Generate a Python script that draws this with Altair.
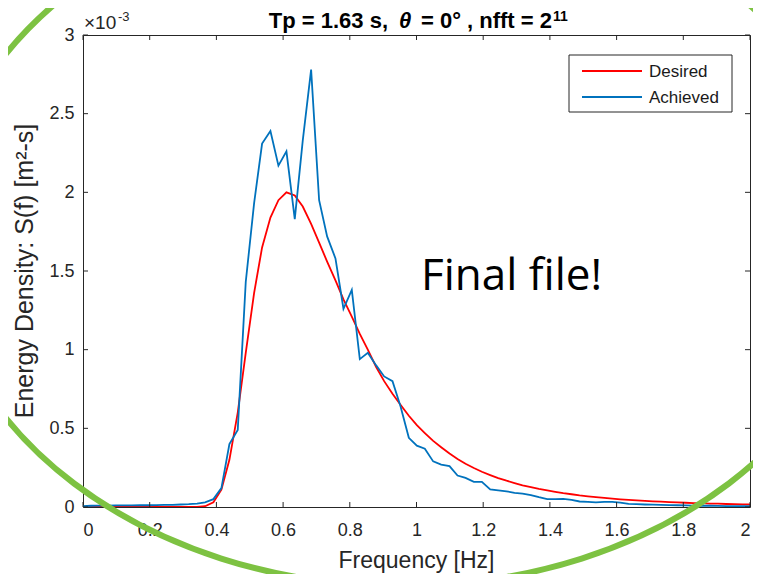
import altair as alt
import pandas as pd

# ---------------- data (values in units of 1e-3 m^2-s) ----------------
freq = [0.000, 0.024, 0.049, 0.073, 0.098, 0.122, 0.146, 0.171, 0.195, 0.220,
        0.244, 0.269, 0.293, 0.317, 0.342, 0.366, 0.391, 0.415, 0.439, 0.464,
        0.488, 0.513, 0.537, 0.562, 0.586, 0.610, 0.635, 0.659, 0.684, 0.708,
        0.732, 0.757, 0.781, 0.806, 0.830, 0.854, 0.879, 0.903, 0.928, 0.952,
        0.977, 1.001, 1.025, 1.050, 1.074, 1.099, 1.123, 1.147, 1.172, 1.196,
        1.221, 1.245, 1.270, 1.294, 1.318, 1.343, 1.367, 1.392, 1.416, 1.440,
        1.465, 1.489, 1.514, 1.538, 1.563, 1.587, 1.611, 1.636, 1.660, 1.685,
        1.709, 1.733, 1.758, 1.782, 1.807, 1.831, 1.855, 1.880, 1.904, 1.929,
        1.953, 1.978, 2.002]

desired = [0.0, 0.0, 0.0, 0.0, 0.0, 0.0, 0.0, 0.0, 0.0, 0.0,
           0.0, 0.0, 0.0, 0.0, 0.001, 0.005, 0.03, 0.11, 0.30, 0.60,
           0.98, 1.36, 1.65, 1.84, 1.95, 2.00, 1.98, 1.91, 1.80, 1.68,
           1.56, 1.44, 1.32, 1.21, 1.10, 1.00, 0.89, 0.80, 0.72, 0.65,
           0.58, 0.52, 0.47, 0.42, 0.38, 0.34, 0.305, 0.275, 0.248, 0.224,
           0.203, 0.184, 0.167, 0.152, 0.138, 0.126, 0.115, 0.105, 0.096, 0.088,
           0.081, 0.074, 0.068, 0.063, 0.058, 0.053, 0.049, 0.045, 0.042, 0.039,
           0.036, 0.034, 0.031, 0.029, 0.027, 0.025, 0.024, 0.022, 0.021, 0.019,
           0.018, 0.017, 0.016]

achieved = [0.005, 0.008, 0.009, 0.009, 0.010, 0.010, 0.010, 0.011, 0.011, 0.012,
            0.013, 0.014, 0.016, 0.018, 0.022, 0.030, 0.050, 0.12, 0.40, 0.49,
            1.43, 1.93, 2.31, 2.39, 2.17, 2.26, 1.83, 2.33, 2.78, 1.95,
            1.72, 1.58, 1.26, 1.38, 0.94, 0.98, 0.90, 0.83, 0.80, 0.64,
            0.44, 0.39, 0.37, 0.29, 0.27, 0.26, 0.20, 0.185, 0.16, 0.16,
            0.112, 0.106, 0.10, 0.09, 0.085, 0.075, 0.062, 0.05, 0.05, 0.052,
            0.045, 0.035, 0.032, 0.030, 0.032, 0.033, 0.028, 0.020, 0.018, 0.016,
            0.015, 0.013, 0.012, 0.011, 0.010, 0.009, 0.008, 0.008, 0.007, 0.006,
            0.006, 0.005, 0.005]

series_names = ["Desired", "Achieved"]
series_colors = ["#FF0000", "#0072BD"]
x_ticks = [0, 0.2, 0.4, 0.6, 0.8, 1, 1.2, 1.4, 1.6, 1.8, 2]
y_ticks = [0, 0.5, 1, 1.5, 2, 2.5, 3]

title_parts = ["Tp = 1.63 s,", "\u03b8", "= 0\u00b0 , nfft = 2", "11"]
x_label = "Frequency [Hz]"
y_label = "Energy Density: S(f) [m\u00b2-s]"
exponent = ["\u00d710", "-3"]
note = "Final file!"

# ---------------- layout ----------------
W, H = 667, 472
FONT = "Liberation Sans"
AX = "#262626"

df = pd.DataFrame({"f": freq, "Desired": desired, "Achieved": achieved})
one = pd.DataFrame({"_": [0]})
xt = pd.DataFrame({"t": x_ticks})
yt = pd.DataFrame({"t": y_ticks})

xs = alt.Scale(domain=[0, 2], nice=False, zero=False)
ys = alt.Scale(domain=[0, 3], nice=False, zero=False)

common = dict(ticks=False, tickSize=0, domain=False, grid=False,
              labelFont=FONT, labelFontSize=18, labelColor=AX, title=None)
ax_x = alt.Axis(values=x_ticks, format="~g", labelPadding=14, **common)
ax_y = alt.Axis(values=y_ticks, format="~g", labelPadding=9, **common)

red = alt.Chart(df).mark_line(color=series_colors[0], strokeWidth=1.8, clip=True).encode(
    x=alt.X("f:Q", scale=xs, axis=ax_x),
    y=alt.Y("Desired:Q", scale=ys, axis=ax_y),
)
blue = alt.Chart(df).mark_line(color=series_colors[1], strokeWidth=1.8, clip=True).encode(
    x=alt.X("f:Q", scale=xs, axis=ax_x),
    y=alt.Y("Achieved:Q", scale=ys, axis=ax_y),
)

tick_style = dict(color=AX, strokeWidth=1)
t_bottom = alt.Chart(xt).mark_rule(**tick_style).encode(
    x=alt.X("t:Q", scale=xs, axis=ax_x), y=alt.value(H), y2=alt.value(H - 5))
t_top = alt.Chart(xt).mark_rule(**tick_style).encode(
    x=alt.X("t:Q", scale=xs, axis=ax_x), y=alt.value(0), y2=alt.value(5))
t_left = alt.Chart(yt).mark_rule(**tick_style).encode(
    y=alt.Y("t:Q", scale=ys, axis=ax_y), x=alt.value(0), x2=alt.value(5))
t_right = alt.Chart(yt).mark_rule(**tick_style).encode(
    y=alt.Y("t:Q", scale=ys, axis=ax_y), x=alt.value(W), x2=alt.value(W - 5))

# legend
leg_box = alt.Chart(one).mark_rect(fill="white", stroke=AX, strokeWidth=1).encode(
    x=alt.value(486), x2=alt.value(649), y=alt.value(20), y2=alt.value(77))
leg_layers = [leg_box]
for i, (name, col) in enumerate(zip(series_names, series_colors)):
    yy = 36 + 26 * i
    leg_layers.append(alt.Chart(one).mark_rule(color=col, strokeWidth=1.8).encode(
        x=alt.value(499), x2=alt.value(559), y=alt.value(yy)))
    leg_layers.append(alt.Chart(one).mark_text(
        align="left", baseline="middle", font=FONT, fontSize=17, color="#1a1a1a").encode(
        x=alt.value(566), y=alt.value(yy + 1), text=alt.value(name)))

# title
tb = dict(font=FONT, fontWeight="bold", color="#000000", baseline="alphabetic")
title_layers = [
    alt.Chart(one).mark_text(align="right", fontSize=22, **tb).encode(
        x=alt.value(305), y=alt.value(-7), text=alt.value(title_parts[0])),
    alt.Chart(one).mark_text(align="left", fontSize=22, fontStyle="italic", **tb).encode(
        x=alt.value(316), y=alt.value(-7), text=alt.value(title_parts[1])),
    alt.Chart(one).mark_text(align="right", fontSize=22, **tb).encode(
        x=alt.value(469), y=alt.value(-7), text=alt.value(title_parts[2])),
    alt.Chart(one).mark_text(align="left", fontSize=14, **tb).encode(
        x=alt.value(470), y=alt.value(-14), text=alt.value(title_parts[3])),
]

# exponent
exp_layers = [
    alt.Chart(one).mark_text(align="left", baseline="alphabetic", font=FONT,
                             fontSize=19, color=AX).encode(
        x=alt.value(1), y=alt.value(-6), text=alt.value(exponent[0])),
    alt.Chart(one).mark_text(align="left", baseline="alphabetic", font=FONT,
                             fontSize=13, color=AX).encode(
        x=alt.value(35), y=alt.value(-14), text=alt.value(exponent[1])),
]

# axis titles
xlab = alt.Chart(one).mark_text(align="center", baseline="alphabetic", font=FONT,
                                fontSize=23, color=AX).encode(
    x=alt.value(W / 2), y=alt.value(533), text=alt.value(x_label))
ylab = alt.Chart(one).mark_text(align="center", baseline="alphabetic", font=FONT,
                                fontSize=25, color=AX, angle=270).encode(
    x=alt.value(-50), y=alt.value(236), text=alt.value(y_label))

# slide annotation
note_txt = alt.Chart(one).mark_text(align="left", baseline="alphabetic", font="Open Sans",
                                    fontSize=44, color="#000000").encode(
    x=alt.value(338), y=alt.value(255), text=alt.value(note))

ELLIPSE = "M -1 0 A 1 0.756 0 1 1 1 0 A 1 0.756 0 1 1 -1 0 Z"
ellipse = alt.Chart(one).mark_point(shape=ELLIPSE, filled=False, stroke="#7DC242",
                                    strokeWidth=6, opacity=1).encode(
    x=alt.value(318.5), y=alt.value(201), size=alt.value(857476))

chart = alt.layer(
    red, blue, t_bottom, t_top, t_left, t_right, *leg_layers, *title_layers,
    *exp_layers, xlab, ylab, note_txt, ellipse
).properties(
    width=W, height=H,
    autosize=alt.AutoSizeParams(type="none"),
    padding={"left": 75, "top": 27, "right": 3, "bottom": 67},
    background="white",
).configure_view(stroke=AX, strokeWidth=1)

chart.save("out.html", embed_options={"renderer": "svg", "actions": False})
